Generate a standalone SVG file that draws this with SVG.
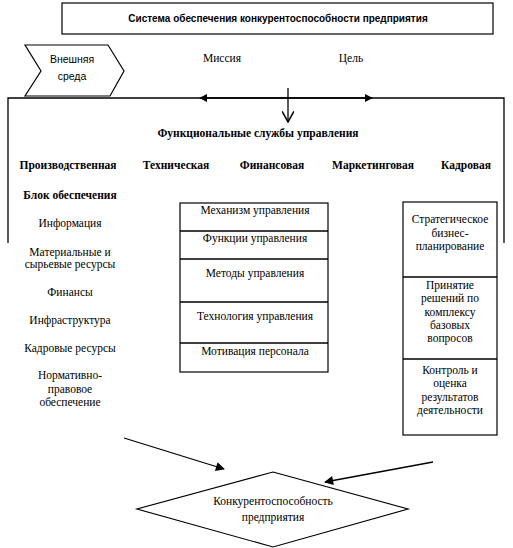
<svg xmlns="http://www.w3.org/2000/svg" width="513" height="548" viewBox="0 0 513 548">
<defs>
<style>
.ln{fill:none;stroke:#000;stroke-width:1.3}
.bx{fill:#fff;stroke:#000;stroke-width:1.2}
.s{font-family:"Liberation Serif","Times New Roman","DejaVu Serif",serif;font-size:11.5px;fill:#000;text-anchor:middle}
.b{font-weight:bold}
.sans{font-family:"Liberation Sans",Arial,sans-serif;fill:#000;text-anchor:middle}
</style>
<marker id="fa" viewBox="0 0 10 10" refX="9" refY="5" markerWidth="8" markerHeight="8" markerUnits="userSpaceOnUse" orient="auto"><path d="M0,0 L10,5 L0,10 z" fill="#000"/></marker>
<marker id="fa2" viewBox="0 0 10 10" refX="9" refY="5" markerWidth="11" markerHeight="9" markerUnits="userSpaceOnUse" orient="auto"><path d="M0,0 L10,5 L0,10 z" fill="#000"/></marker>
<marker id="va" viewBox="0 0 10 10" refX="9" refY="5" markerWidth="12" markerHeight="12" markerUnits="userSpaceOnUse" orient="auto"><path d="M0,0 L9,5 L0,10" fill="none" stroke="#000" stroke-width="1.3"/></marker>
</defs>

<g id="title">
<rect class="bx" x="62" y="3" width="431" height="31"/>
<text class="sans b" x="278" y="22" font-size="10">Система обеспечения конкурентоспособности предприятия</text>
</g>

<g id="external">
<path class="bx" d="M25,45 L108,45 L124,71 L110,96 L25,96 L41,71 Z"/>
<text class="sans" x="72" y="63" font-size="10.5">Внешняя</text>
<text class="sans" x="72" y="80" font-size="10.5">среда</text>
</g>

<g id="mission"><text class="s" x="222" y="62">Миссия</text></g>
<g id="goal"><text class="s" x="351" y="62">Цель</text></g>

<g id="connectors">
<path class="ln" d="M8,243 L8,98 L504,98 L504,243"/>
<path class="ln" d="M288,98 L200,98" marker-end="url(#fa)"/>
<path class="ln" d="M288,98 L372,98" marker-end="url(#fa)"/>
<path class="ln" d="M288,88 L288,122" marker-end="url(#va)"/>
<path class="ln" d="M124,438 L224,469" marker-end="url(#fa2)"/>
<path class="ln" d="M433,462 L325,482" marker-end="url(#fa2)"/>
</g>

<g id="services">
<text class="s b" x="258" y="137">Функциональные службы управления</text>
<text class="s b" x="68" y="169">Производственная</text>
<text class="s b" x="176" y="169">Техническая</text>
<text class="s b" x="272" y="169">Финансовая</text>
<text class="s b" x="373" y="169">Маркетинговая</text>
<text class="s b" x="466" y="169">Кадровая</text>
</g>

<g id="support">
<text class="s b" x="70" y="199">Блок обеспечения</text>
<text class="s" x="70" y="227">Информация</text>
<text class="s" x="70" y="256">Материальные и</text>
<text class="s" x="70" y="268">сырьевые ресурсы</text>
<text class="s" x="70" y="296">Финансы</text>
<text class="s" x="70" y="324">Инфраструктура</text>
<text class="s" x="70" y="352">Кадровые ресурсы</text>
<text class="s" x="70" y="379">Нормативно-</text>
<text class="s" x="70" y="393">правовое</text>
<text class="s" x="70" y="406">обеспечение</text>
</g>

<g id="management">
<rect class="bx" x="180" y="203" width="148" height="169"/>
<path class="ln" d="M180,231 H328 M180,259 H328 M180,302 H328 M180,343 H328" stroke-width="1"/>
<text class="s" x="255" y="214">Механизм управления</text>
<text class="s" x="255" y="242">Функции управления</text>
<text class="s" x="255" y="277">Методы управления</text>
<text class="s" x="255" y="320">Технология управления</text>
<text class="s" x="255" y="355">Мотивация персонала</text>
</g>

<g id="planning">
<rect class="bx" x="403" y="202" width="94" height="233"/>
<path class="ln" d="M403,277 H497 M403,359 H497" stroke-width="1"/>
<text class="s" x="450" y="223">Стратегическое</text>
<text class="s" x="450" y="237">бизнес-</text>
<text class="s" x="450" y="250">планирование</text>
<text class="s" x="450" y="289">Принятие</text>
<text class="s" x="450" y="302">решений по</text>
<text class="s" x="450" y="316">комплексу</text>
<text class="s" x="450" y="329">базовых</text>
<text class="s" x="450" y="342">вопросов</text>
<text class="s" x="450" y="374">Контроль и</text>
<text class="s" x="450" y="387">оценка</text>
<text class="s" x="450" y="401">результатов</text>
<text class="s" x="450" y="414">деятельности</text>
</g>

<g id="competitiveness">
<path class="bx" d="M273,472 L408,509 L273,547 L137,509 Z"/>
<text class="s" x="273" y="505">Конкурентоспособность</text>
<text class="s" x="273" y="521">предприятия</text>
</g>
</svg>
